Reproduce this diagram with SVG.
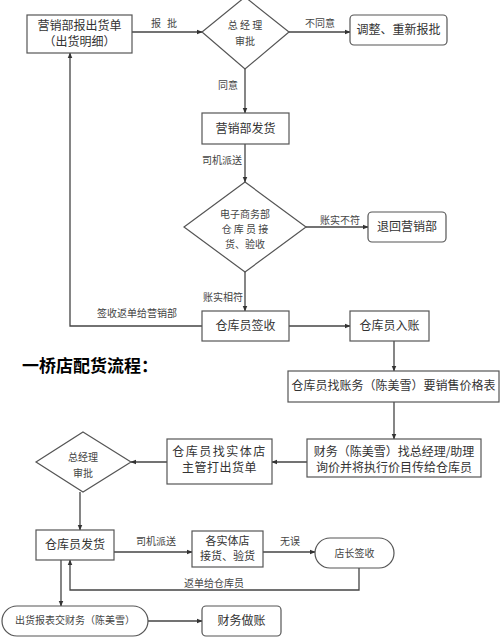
<svg xmlns="http://www.w3.org/2000/svg" width="500" height="637" viewBox="0 0 500 637">
<defs>
<marker id="ah" viewBox="0 0 10 10" refX="9" refY="5" markerWidth="6" markerHeight="6" orient="auto" markerUnits="userSpaceOnUse">
<path d="M0,1 L10,5 L0,9 z" fill="#333"/>
</marker>
<style>
.n{fill:#fff;stroke:#555;stroke-width:1.2}
.c{fill:none;stroke:#444;stroke-width:1.3}
.a{marker-end:url(#ah)}
text{font-family:"Noto Sans CJK SC","Noto Sans CJK TC",sans-serif;fill:#333;text-anchor:middle}
.t12{font-size:12px}
.t11{font-size:11px}
.t10{font-size:10px;fill:#444}
.lbl{font-size:10px;fill:#444}
.title{font-size:17px;font-weight:bold;fill:#000;text-anchor:start}
</style>
</defs>
<rect width="500" height="637" fill="#fff"/>

<g id="connectors">
<line class="c a" x1="132" y1="32" x2="202" y2="32"/>
<line class="c a" x1="289" y1="32" x2="350" y2="32"/>
<line class="c a" x1="245" y1="69" x2="245" y2="113"/>
<line class="c a" x1="245" y1="144" x2="245" y2="182"/>
<line class="c a" x1="306" y1="227" x2="368" y2="227"/>
<line class="c a" x1="245" y1="272" x2="245" y2="311"/>
<polyline class="c a" points="202,326 70,326 70,53"/>
<line class="c a" x1="289" y1="326" x2="350" y2="326"/>
<line class="c a" x1="394" y1="341" x2="394" y2="371"/>
<line class="c a" x1="394" y1="402" x2="394" y2="439"/>
<line class="c a" x1="307" y1="462" x2="272" y2="462"/>
<line class="c a" x1="167" y1="462" x2="131" y2="462"/>
<line class="c a" x1="80" y1="492" x2="80" y2="530"/>
<line class="c a" x1="114" y1="552" x2="192" y2="552"/>
<line class="c a" x1="263" y1="552" x2="315" y2="552"/>
<polyline class="c a" points="359,568 359,590 70,590 70,560"/>
<line class="c a" x1="61" y1="560" x2="61" y2="606"/>
<line class="c a" x1="148" y1="621" x2="202" y2="621"/>
<text class="lbl" x="167" y="27" letter-spacing="6">报批</text>
<text class="lbl" x="320" y="27">不同意</text>
<text class="lbl" x="228" y="89">同意</text>
<text class="lbl" x="222" y="164">司机派送</text>
<text class="lbl" x="340" y="224">账实不符</text>
<text class="lbl" x="223" y="301">账实相符</text>
<text class="lbl" x="137" y="317">签收返单给营销部</text>
<text class="lbl" x="156" y="545">司机派送</text>
<text class="lbl" x="290" y="545">无误</text>
<text class="lbl" x="214" y="587">返单给仓库员</text>
</g>

<g id="n1"><rect class="n" x="27" y="15" width="105" height="38"/>
<text class="t12" x="79.5" y="30">营销部报出货单</text>
<text class="t12" x="79.5" y="46">（出货明细）</text></g>

<g id="n2"><polygon class="n" points="245,-3 289,32 245,69 202,32"/>
<text class="t10" x="245" y="29">总 经 理</text>
<text class="t10" x="245" y="45">审批</text></g>

<g id="n3"><rect class="n" x="350" y="15" width="97" height="30" rx="4"/>
<text class="t12" x="398.5" y="34">调整、重新报批</text></g>

<g id="n4"><rect class="n" x="202" y="113" width="87" height="31"/>
<text class="t12" x="245.5" y="133">营销部发货</text></g>

<g id="n5"><polygon class="n" points="245,182 306,227 245,272 184,227"/>
<text class="t10" x="245" y="218">电子商务部</text>
<text class="t10" x="245" y="233">仓 库 员 接</text>
<text class="t10" x="245" y="248">货、验收</text></g>

<g id="n6"><rect class="n" x="368" y="212" width="78" height="30" rx="4"/>
<text class="t12" x="407" y="231">退回营销部</text></g>

<g id="n7"><rect class="n" x="202" y="311" width="87" height="30"/>
<text class="t12" x="245.5" y="330">仓库员签收</text></g>

<g id="n8"><rect class="n" x="350" y="311" width="79" height="30"/>
<text class="t12" x="389.5" y="330">仓库员入账</text></g>

<text class="title" x="22" y="372">一桥店配货流程：</text>

<g id="n9"><rect class="n" x="288" y="371" width="211" height="31"/>
<text class="t12" x="393.5" y="390">仓库员找账务（陈美雪）要销售价格表</text></g>

<g id="n10"><rect class="n" x="307" y="439" width="174" height="38"/>
<text class="t12" x="394" y="456">财务（陈美雪）找总经理/助理</text>
<text class="t12" x="394" y="472">询价并将执行价目传给仓库员</text></g>

<g id="n11"><rect class="n" x="167" y="439" width="105" height="45"/>
<text class="t12" x="219.5" y="456" letter-spacing="1.5">仓库员找实体店</text>
<text class="t12" x="219.5" y="472" letter-spacing="0.5">主管打出货单</text></g>

<g id="n12"><polygon class="n" points="83,432 131,462 83,492 36,462"/>
<text class="t10" x="83" y="461">总经理</text>
<text class="t10" x="83" y="477">审批</text></g>

<g id="n13"><rect class="n" x="36" y="530" width="78" height="30"/>
<text class="t12" x="75" y="549">仓库员发货</text></g>

<g id="n14"><rect class="n" x="192" y="531" width="71" height="36"/>
<text class="t11" x="227.5" y="545">各实体店</text>
<text class="t11" x="227.5" y="560">接货、验货</text></g>

<g id="n15"><rect class="n" x="315" y="538" width="79" height="30" rx="15"/>
<text class="t10" x="354.5" y="557">店长签收</text></g>

<g id="n16"><rect class="n" x="2" y="606" width="146" height="30" rx="15"/>
<text class="t10" x="75" y="624">出货报表交财务（陈美雪）</text></g>

<g id="n17"><rect class="n" x="202" y="606" width="79" height="30" rx="4"/>
<text class="t12" x="241.5" y="625">财务做账</text></g>
</svg>
